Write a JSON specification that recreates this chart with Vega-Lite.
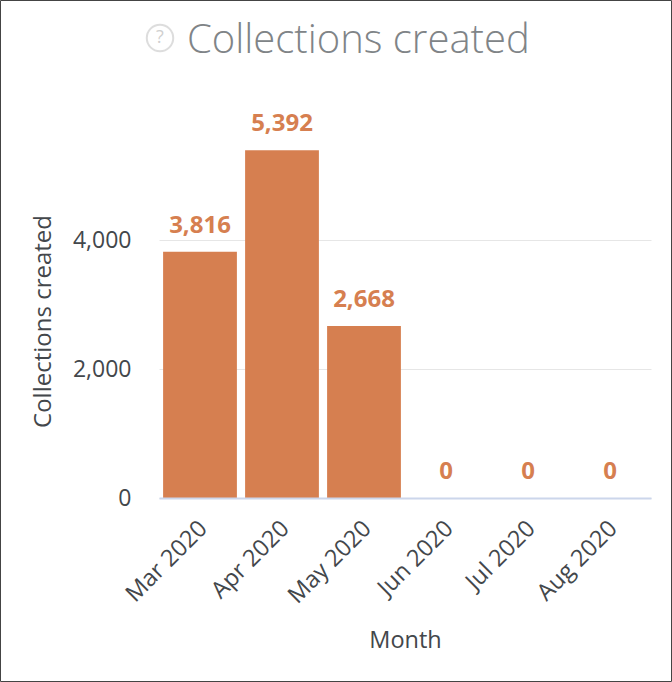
{
  "$schema": "https://vega.github.io/schema/vega-lite/v6.json",
  "width": 671,
  "height": 681,
  "padding": {"left": 0, "top": 0, "right": 1, "bottom": 1},
  "autosize": "none",
  "background": "white",
  "title": {
    "text": "Collections created",
    "font": "Open Sans",
    "fontSize": 40,
    "fontWeight": 300,
    "color": "#808487",
    "anchor": "start",
    "frame": "group",
    "dx": 187,
    "offset": -61
  },
  "data": {
    "values": [
      {"month": "Mar 2020", "collections": 3816},
      {"month": "Apr 2020", "collections": 5392},
      {"month": "May 2020", "collections": 2668},
      {"month": "Jun 2020", "collections": 0},
      {"month": "Jul 2020", "collections": 0},
      {"month": "Aug 2020", "collections": 0}
    ]
  },
  "encoding": {
    "x": {
      "field": "month",
      "type": "ordinal",
      "title": "Month",
      "scale": {
        "domain": ["Mar 2020", "Apr 2020", "May 2020", "Jun 2020", "Jul 2020", "Aug 2020"],
        "range": [159, 651],
        "paddingInner": 0.1,
        "paddingOuter": 0.05
      },
      "axis": {
        "offset": -183,
        "zindex": 1,
        "labelAngle": -45,
        "labelFont": "Open Sans",
        "labelFontSize": 23.5,
        "labelColor": "#43474b",
        "labelOffset": -5,
        "titleFont": "Open Sans",
        "titleFontSize": 23.5,
        "titleFontWeight": "normal",
        "titleColor": "#43474b",
        "domainColor": "#ccd6eb",
        "domainWidth": 2,
        "ticks": false,
        "labelPadding": 18,
        "titlePadding": 21
      }
    },
    "y": {
      "field": "collections",
      "type": "quantitative",
      "title": "Collections created",
      "scale": {"domain": [0, 7721], "range": [498, 0], "nice": false},
      "axis": {
        "offset": -159,
        "values": [0, 2000, 4000],
        "format": ",d",
        "grid": false,
        "labelFont": "Open Sans",
        "labelFontSize": 23,
        "labelColor": "#43474b",
        "titleFont": "Open Sans",
        "titleFontSize": 24,
        "titleFontWeight": "normal",
        "titleColor": "#43474b",
        "titleY": 321,
        "domain": false,
        "ticks": true,
        "tickSize": -492,
        "tickColor": "#e6e6e6",
        "tickWidth": 1,
        "labelPadding": 520,
        "titlePadding": 17
      }
    }
  },
  "layer": [
    {"mark": {"type": "bar", "color": "#d67f50"}},
    {
      "mark": {
        "type": "text",
        "dy": -26,
        "font": "Open Sans",
        "fontSize": 24,
        "fontWeight": "bold",
        "color": "#d67f50"
      },
      "encoding": {"text": {"field": "collections", "type": "quantitative", "format": ",d"}}
    },
    {
      "data": {"values": [{"month": "Mar 2020", "level": 7132, "glyph": "?"}]},
      "mark": {"type": "point", "shape": "circle", "size": 700, "filled": false, "stroke": "#d0d0d0", "strokeWidth": 2, "xOffset": -40},
      "encoding": {"y": {"field": "level", "type": "quantitative"}}
    },
    {
      "data": {"values": [{"month": "Mar 2020", "level": 7132, "glyph": "?"}]},
      "mark": {"type": "text", "font": "Open Sans", "fontSize": 18, "color": "#d0d0d0", "xOffset": -40},
      "encoding": {
        "y": {"field": "level", "type": "quantitative"},
        "text": {"field": "glyph"}
      }
    }
  ],
  "config": {"view": {"stroke": "#444444", "strokeWidth": 1}}
}
